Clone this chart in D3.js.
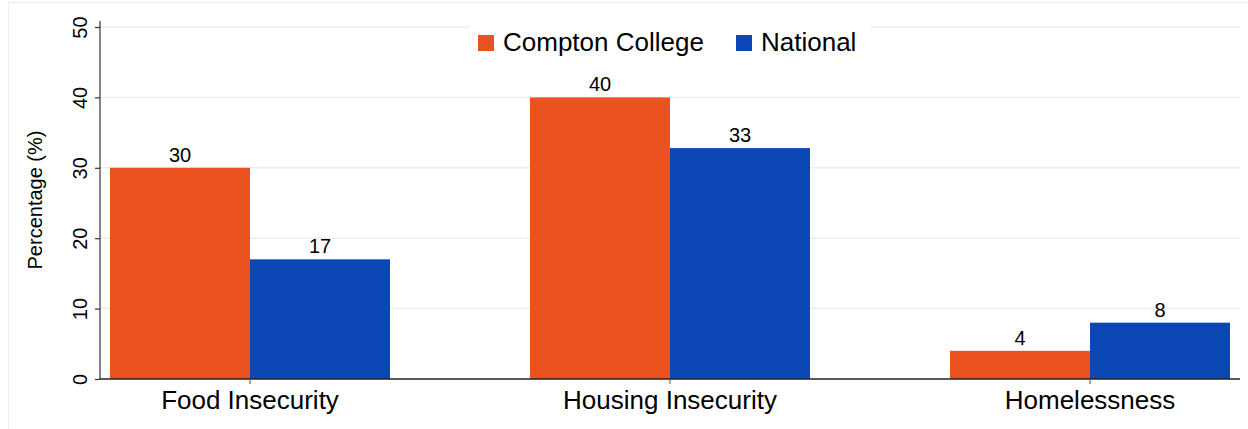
<!DOCTYPE html>
<html>
<head>
<meta charset="utf-8">
<script src="https://cdn.jsdelivr.net/npm/d3@7"></script>
<style>
  body { margin: 0; background: #fff; }
  svg { display: block; font-family: "Liberation Sans", Arial, Helvetica, sans-serif; }
</style>
</head>
<body>
<div id="chart"></div>
<script>
const categories = ["Food Insecurity", "Housing Insecurity", "Homelessness"];
const seriesNames = ["Compton College", "National"];
const comptonValues = [30, 40, 4];
const nationalValues = [17, 32.8, 8];
const yTicks = [0, 10, 20, 30, 40, 50];
const colors = ["#ea5220", "#0b48b5"];

const width = 1248, height = 429;
const plot = { left: 100, right: 1240, top: 27, bottom: 379 };

const svg = d3.select("#chart").append("svg")
  .attr("width", width)
  .attr("height", height);

// outer graph region border (Stata style)
svg.append("rect")
  .attr("x", 8.5).attr("y", 2.5)
  .attr("width", 1250).attr("height", 440)
  .attr("fill", "none")
  .attr("stroke", "#e6eeee")
  .attr("stroke-width", 1);

const y = d3.scaleLinear().domain([0, 50]).range([plot.bottom, plot.top]);

const x0 = d3.scaleBand()
  .domain(categories)
  .range([110, 1230])
  .paddingInner(1 / 3)
  .paddingOuter(0);

const x1 = d3.scaleBand()
  .domain(seriesNames)
  .range([0, x0.bandwidth()]);

// gridlines
svg.append("g")
  .selectAll("line")
  .data(yTicks.filter(t => t > 0))
  .join("line")
  .attr("x1", plot.left).attr("x2", plot.right)
  .attr("y1", d => y(d)).attr("y2", d => y(d))
  .attr("stroke", "#e8efef")
  .attr("stroke-width", 1.5);

// bars
const rows = categories.map((c, i) => ({
  cat: c,
  vals: [
    { series: seriesNames[0], v: comptonValues[i] },
    { series: seriesNames[1], v: nationalValues[i] }
  ]
}));

const groups = svg.append("g")
  .selectAll("g")
  .data(rows)
  .join("g")
  .attr("transform", d => `translate(${x0(d.cat)},0)`);

groups.selectAll("rect")
  .data(d => d.vals)
  .join("rect")
  .attr("x", d => x1(d.series))
  .attr("y", d => y(d.v))
  .attr("width", x1.bandwidth())
  .attr("height", d => y(0) - y(d.v))
  .attr("fill", (d, i) => colors[i]);

groups.selectAll("text")
  .data(d => d.vals)
  .join("text")
  .attr("x", d => x1(d.series) + x1.bandwidth() / 2)
  .attr("y", d => y(d.v) - 6)
  .attr("text-anchor", "middle")
  .style("font-size", "20px")
  .style("fill", "#000")
  .text(d => d3.format(".0f")(d.v));

// y axis
const yAxis = svg.append("g")
  .attr("transform", `translate(${plot.left},0)`)
  .call(d3.axisLeft(y).tickValues(yTicks).tickSize(5).tickPadding(0).tickFormat(d3.format("d")));
yAxis.select(".domain").attr("d", `M0,${plot.bottom}V${plot.top - 6}`).attr("stroke", "#333").attr("stroke-width", 1.2);
yAxis.selectAll(".tick line").attr("stroke", "#333").attr("stroke-width", 1.2);
yAxis.selectAll(".tick text")
  .attr("x", 0).attr("y", 0)
  .attr("dy", null)
  .attr("transform", "translate(-13,0) rotate(-90)")
  .attr("text-anchor", "middle")
  .style("font-size", "20px")
  .style("fill", "#000");

// x axis
const xAxis = svg.append("g")
  .attr("transform", `translate(0,${plot.bottom})`)
  .call(d3.axisBottom(x0).tickSize(5).tickPadding(7));
xAxis.select(".domain").attr("d", `M${plot.left},0H${plot.right}`).attr("stroke", "#222").attr("stroke-width", 1.5);
xAxis.selectAll(".tick line").attr("stroke", "#555").attr("stroke-width", 1);
xAxis.selectAll(".tick text")
  .attr("dy", "0.71em")
  .style("font-size", "26px")
  .style("fill", "#000");

// y title
svg.append("text")
  .attr("transform", `translate(42,200) rotate(-90)`)
  .attr("text-anchor", "middle")
  .style("font-size", "20px")
  .style("fill", "#000")
  .text("Percentage (%)");

// legend
const legend = svg.append("g");
legend.append("rect")
  .attr("x", 470).attr("y", 20)
  .attr("width", 400).attr("height", 45)
  .attr("fill", "#fff");

const legendItems = [
  { name: seriesNames[0], color: colors[0], x: 478 },
  { name: seriesNames[1], color: colors[1], x: 736 }
];
legendItems.forEach(l => {
  legend.append("rect")
    .attr("x", l.x).attr("y", 35)
    .attr("width", 16).attr("height", 16)
    .attr("fill", l.color);
  legend.append("text")
    .attr("x", l.x + 25).attr("y", 44)
    .attr("dominant-baseline", "middle")
    .style("font-size", "26px")
    .style("fill", "#000")
    .text(l.name);
});
</script>
</body>
</html>
